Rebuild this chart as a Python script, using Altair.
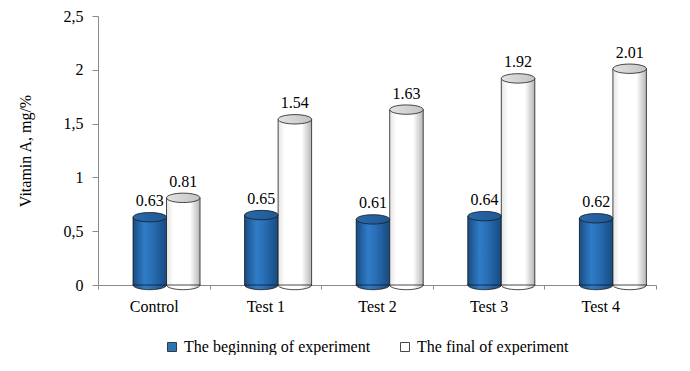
import altair as alt
import pandas as pd

categories = ["Control", "Test 1", "Test 2", "Test 3", "Test 4"]
series_names = ["The beginning of experiment", "The final of experiment"]
beginning = [0.63, 0.65, 0.61, 0.64, 0.62]
final = [0.81, 1.54, 1.63, 1.92, 2.01]
y_ticks = [0, 0.5, 1, 1.5, 2, 2.5]

rows = []
for c, b, f in zip(categories, beginning, final):
    rows.append({"category": c, "series": series_names[0], "value": b})
    rows.append({"category": c, "series": series_names[1], "value": f})
df = pd.DataFrame(rows)

FONT = "Liberation Serif"
is_blue = "datum.series == '%s'" % series_names[0]

grad_blue = {"gradient": "linear", "x1": 0, "y1": 0, "x2": 1, "y2": 0,
             "stops": [{"offset": 0, "color": "#1A4C82"},
                       {"offset": 0.35, "color": "#2F7CC8"},
                       {"offset": 0.55, "color": "#2A71B9"},
                       {"offset": 1, "color": "#184A80"}]}
grad_white = {"gradient": "linear", "x1": 0, "y1": 0, "x2": 1, "y2": 0,
              "stops": [{"offset": 0, "color": "#E4E4E4"},
                        {"offset": 0.2, "color": "#FFFFFF"},
                        {"offset": 0.7, "color": "#FFFFFF"},
                        {"offset": 1, "color": "#B5B5B5"}]}
top_blue = {"gradient": "linear", "x1": 0, "y1": 0, "x2": 1, "y2": 0,
            "stops": [{"offset": 0, "color": "#2A68A8"},
                      {"offset": 1, "color": "#1E5896"}]}
top_white = {"gradient": "linear", "x1": 0, "y1": 0, "x2": 1, "y2": 0,
             "stops": [{"offset": 0, "color": "#E2E2E2"},
                       {"offset": 1, "color": "#C4C4C4"}]}

ellipse = "M-1,0 A1,0.28,0,1,0,1,0 A1,0.28,0,1,0,-1,0 Z"
bar_w = 33.5
sym_size = bar_w * bar_w

x_enc = alt.X("category:N", sort=categories,
              scale=alt.Scale(paddingInner=0, paddingOuter=0),
              axis=alt.Axis(title=None, labelAngle=0, labelFont=FONT, labelFontSize=16,
                            labelColor="black", domainColor="#8A8A8A", tickColor="#8A8A8A",
                            tickSize=4, labelPadding=9, tickBand="extent"))
xo_enc = alt.XOffset("series:N", sort=series_names,
                     scale=alt.Scale(paddingInner=0, paddingOuter=0.666, align=0.785))
y_scale = alt.Scale(domain=[0, 2.5], nice=False)
y_enc = alt.Y("value:Q", scale=y_scale,
              axis=alt.Axis(values=y_ticks, grid=False, title="Vitamin A, mg/%",
                            labelExpr="replace(format(datum.value, '~g'), '.', ',')",
                            labelFont=FONT, labelFontSize=16, labelColor="black",
                            titleFont=FONT, titleFontSize=16, titleFontWeight="normal",
                            titleColor="black", titlePadding=30,
                            domainColor="#8A8A8A", tickColor="#8A8A8A",
                            tickSize=6, labelPadding=9))

base = alt.Chart(df)

bottom = base.mark_point(shape=ellipse, filled=True, size=sym_size, opacity=1,
                         stroke="#1A1A1A", strokeWidth=0.8).encode(
    x=x_enc, xOffset=xo_enc,
    y=alt.Y(datum=0, scale=y_scale),
    fill=alt.condition(is_blue, alt.value(grad_blue), alt.value(grad_white)),
)

solid = base.mark_bar(width=bar_w).encode(
    x=x_enc, xOffset=xo_enc, y=y_enc,
    fill=alt.Fill("series:N", sort=series_names,
                  scale=alt.Scale(domain=series_names, range=["#2E75B6", "#FFFFFF"]),
                  legend=alt.Legend(title=None, orient="none", direction="horizontal",
                                    legendX=66, legendY=323, symbolType="square",
                                    symbolSize=81, symbolStrokeColor="#1A1A1A",
                                    symbolStrokeWidth=0.8, labelFont=FONT,
                                    labelFontSize=16, labelColor="black", labelLimit=400,
                                    labelOffset=4, columnPadding=26, padding=0)),
)

grad_bars = base.mark_bar(width=bar_w, stroke="#1A1A1A", strokeWidth=0.8).encode(
    x=x_enc, xOffset=xo_enc, y=y_enc,
    fill=alt.condition(is_blue, alt.value(grad_blue), alt.value(grad_white)),
)

tops = base.mark_point(shape=ellipse, filled=True, size=sym_size, opacity=1,
                       stroke="#1A1A1A", strokeWidth=0.8).encode(
    x=x_enc, xOffset=xo_enc, y=y_enc,
    fill=alt.condition(is_blue, alt.value(top_blue), alt.value(top_white)),
)

labels = base.mark_text(font=FONT, fontSize=16, color="black", dy=-16,
                        baseline="middle").encode(
    x=x_enc, xOffset=xo_enc, y=y_enc,
    text=alt.Text("value:Q", format=".2f"),
)

chart = alt.layer(bottom, solid, grad_bars, tops, labels).properties(
    width=558, height=269,
    autosize=alt.AutoSizeParams(type="none"),
    padding={"left": 90, "top": 8, "right": 20, "bottom": 70},
).configure(background="white", font=FONT).configure_view(stroke=None)

chart.save("out.html", embed_options={"renderer": "svg", "actions": False})
